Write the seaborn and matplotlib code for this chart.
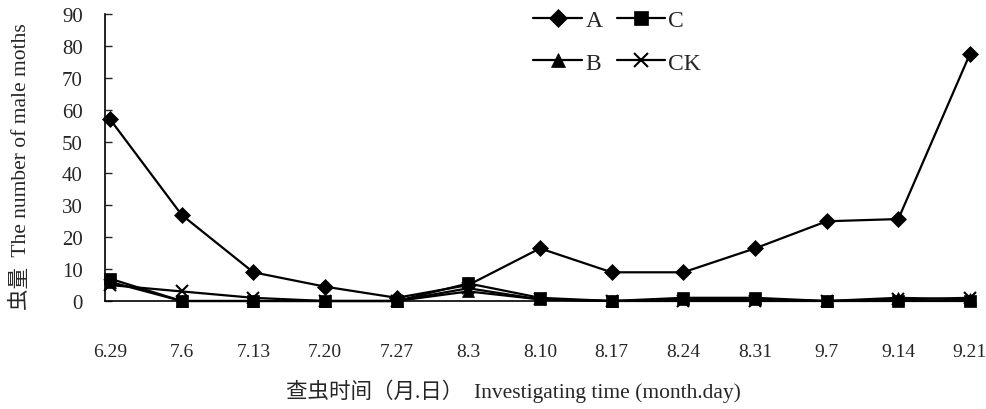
import matplotlib
matplotlib.use("Agg")
import matplotlib.pyplot as plt
import seaborn as sns
import pandas as pd
from matplotlib.lines import Line2D

dates = ["6.29", "7.6", "7.13", "7.20", "7.27", "8.3", "8.10", "8.17",
         "8.24", "8.31", "9.7", "9.14", "9.21"]
A = [57, 27, 9, 4.5, 1, 5, 16.5, 9, 9, 16.5, 25, 25.7, 77.5]
B = [6, 0, 0, 0, 0, 3, 0.5, 0, 0.5, 0.5, 0, 1, 0.5]
C = [7, 0, 0, 0, 0, 5.5, 1, 0, 1, 1, 0, 0, 0]
CK = [5, 3, 1, 0, 0, 4, 0.5, 0, 0, 0, 0, 0.5, 1]
series_names = ["A", "B", "C", "CK"]
yticks = list(range(0, 100, 10))

sns.set_theme(style="white")
plt.rcParams["font.family"] = ["Liberation Serif", "Noto Sans CJK SC", "DejaVu Sans"]

df = pd.DataFrame({"date": dates, "A": A, "B": B, "C": C, "CK": CK})
df["pos"] = range(len(dates))
long = df.melt(id_vars=["date", "pos"], value_vars=series_names,
               var_name="series", value_name="count")

fig = plt.figure(figsize=(9.86, 4.10), dpi=100)
ax = fig.add_axes([105/986, 108/410, (975-105)/986, (395-108)/410])

markers = {"A": "D", "B": "^", "C": "s", "CK": "x"}
sizes = {"A": 8, "B": 9, "C": 9, "CK": 9}
order = ["CK", "B", "C", "A"]
for name in order:
    sub = long[long["series"] == name]
    sns.lineplot(data=sub, x="pos", y="count", ax=ax, color="black",
                 marker=markers[name], markersize=sizes[name],
                 markeredgewidth=1.5 if name == "CK" else 0.5,
                 markeredgecolor="black", markerfacecolor="black",
                 linewidth=1.6, clip_on=False, legend=False, zorder=3)

ax.set_xlim(-0.07, 12.07)
ax.set_ylim(0, 90)
ax.set_xticks(range(len(dates)))
ax.set_xticklabels(dates, fontsize=14)
ax.set_yticks(yticks)
ax.set_yticklabels([str(v) for v in yticks], fontsize=15)
ax.tick_params(axis="x", length=0, pad=30)
ax.tick_params(axis="y", direction="in", length=5, width=1, pad=16, left=True)

for s in ["top", "right"]:
    ax.spines[s].set_visible(False)
for s in ["left", "bottom"]:
    ax.spines[s].set_color("black")
    ax.spines[s].set_linewidth(1.2)

ax.set_xlabel("查虫时间（月.日）  Investigating time (month.day)", fontsize=15.5)
ax.xaxis.set_label_coords(0.47, -0.27)
ax.set_ylabel("虫量  The number of male moths", fontsize=15.5)
ax.yaxis.set_label_coords(-0.085, 0.47)

handles = [Line2D([0], [0], color="black", marker=markers[n], markersize=sizes[n] + 1,
                  markeredgewidth=1.5 if n == "CK" else 0.5, linewidth=1.6,
                  markerfacecolor="black", markeredgecolor="black")
           for n in ["A", "B", "C", "CK"]]
leg = ax.legend(handles, ["A", "B", "C", "CK"], ncol=2, frameon=False,
                loc="upper left", bbox_to_anchor=(0.468, 1.09), fontsize=17,
                handlelength=2.05, handletextpad=0.15, columnspacing=0.6,
                labelspacing=0.9)

fig.savefig("out.png", dpi=100)
